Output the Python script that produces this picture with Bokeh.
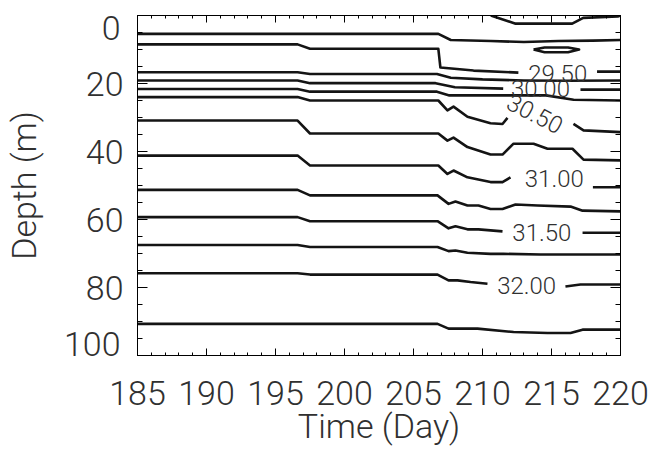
import math
from bokeh.plotting import figure
from bokeh.models import (LinearAxis, SingleIntervalTicker, FixedTicker, Range1d,
                          CustomJSTickFormatter)
from bokeh.core.properties import value
from bokeh.embed import file_html
from bokeh.resources import INLINE

NAN = float("nan")

# ---- isohaline data (time in days, depth in m); NaN = gap for contour label ----
s2900_day = [210.6, 212.4, 216.5, 217.3, 219.8, 220.0]
s2900_dep = [0.0, 2.4, 2.4, 0.7, 0.3, 0.0]

s2925_day = [185, 206.8, 207.7, 210.6, 213.0, 215.5, 218.0, 220]
s2925_dep = [5.4, 5.4, 7.2, 7.5, 7.8, 7.5, 7.4, 7.2]

s2925_loop_day = [213.7, 214.5, 216.2, 217.0, 216.2, 214.5, 213.7]
s2925_loop_dep = [10.0, 9.4, 9.4, 10.0, 10.8, 10.8, 10.0]

s2950_day = [185, 196.6, 197.5, 206.8, 206.95, 209.35, 212.6, NAN, 218.3, 220]
s2950_dep = [8.5, 8.5, 9.8, 9.8, 15.3, 16.2, 16.8, NAN, 16.5, 16.5]

s2975_day = [185, 196.6, 197.5, 206.7, 207.7, 210.0, 213.0, 216.0, 220]
s2975_dep = [16.7, 16.7, 17.2, 17.2, 18.3, 18.8, 19.1, 19.2, 19.1]

s3000_day = [185, 196.6, 197.5, 206.6, 208.0, 211.5, NAN, 217.1, 220]
s3000_dep = [19.1, 19.1, 19.9, 19.9, 21.1, 21.5, NAN, 21.8, 21.8]

s3025_day = [185, 196.6, 197.5, 206.7, 207.6, 214.6, 216.6, 220]
s3025_dep = [21.6, 21.6, 22.4, 22.4, 23.5, 23.5, 24.8, 25.0]

s3050_day = [185, 196.6, 197.5, 206.8, 207.46, 207.9, 208.91, 210.58, 211.45, 211.81,
             NAN, 216.59, 217.32, 220]
s3050_dep = [24.0, 24.0, 25.0, 25.0, 27.9, 26.8, 29.8, 31.7, 31.9, 30.1,
             NAN, 31.9, 33.8, 34.3]

s3075_day = [185, 196.6, 197.5, 206.8, 207.46, 207.9, 208.91, 210.58, 211.45, 212.25,
             213.70, 214.71, 216.52, 217.32, 220]
s3075_dep = [30.9, 30.9, 34.7, 34.7, 36.8, 35.9, 38.7, 40.9, 40.9, 37.7,
             37.7, 39.2, 39.2, 42.4, 42.6]

s3100_day = [185, 196.6, 197.5, 206.8, 207.46, 207.9, 208.91, 210.58, 211.45, 212.03,
             NAN, 218.0, 220]
s3100_dep = [41.2, 41.2, 44.1, 44.1, 46.6, 45.6, 47.6, 49.0, 49.0, 47.6,
             NAN, 50.5, 50.5]

s3125_day = [185, 196.6, 197.5, 206.74, 207.54, 208.04, 208.91, 209.71, 210.58, 211.45,
             212.39, 213.99, 216.38, 217.25, 220]
s3125_dep = [51.3, 51.3, 52.9, 52.9, 55.4, 54.7, 55.9, 55.9, 56.9, 56.9,
             55.6, 55.9, 56.2, 57.4, 57.6]

s3150_day = [185, 196.6, 197.5, 206.74, 207.54, 208.04, 208.91, 209.71, 211.45,
             NAN, 217.25, 220]
s3150_dep = [59.3, 59.3, 60.5, 60.5, 62.6, 62.0, 62.9, 62.9, 63.5,
             NAN, 63.9, 63.9]

s3175_day = [185, 196.6, 197.5, 206.74, 207.54, 208.04, 208.91, 210.58, 211.52, 214.2, 220]
s3175_dep = [67.5, 67.5, 68.1, 68.1, 69.3, 69.1, 69.8, 70.1, 70.1, 70.3, 70.3]

s3200_day = [185, 196.6, 197.5, 206.74, 207.54, 208.19, 209.13, 210.36,
             NAN, 216.01, 217.10, 220]
s3200_dep = [75.8, 75.8, 76.2, 76.2, 77.9, 77.9, 78.4, 78.9,
             NAN, 79.7, 79.1, 79.1]

s3225_day = [185, 206.74, 207.54, 209.64, 212.25, 214.71, 216.38, 217.25, 220]
s3225_dep = [90.7, 90.7, 92.1, 92.1, 93.1, 93.4, 93.4, 92.4, 92.4]

# contour labels
label_text = ["29.50", "30.00", "31.00", "31.50", "32.00"]
label_day = [215.45, 214.2, 215.2, 214.3, 213.2]
label_dep = [17.2, 21.5, 47.9, 63.8, 79.4]
rot_label_text = ["30.50"]
rot_label_day = [213.8]
rot_label_dep = [28.9]
rot_label_deg = [-27]

# axes
x_start, x_end = 185, 220
y_top, y_bottom = 0, 100
y_end_values = [0, 100]

FONT = "Roboto Light"
TXT = "#303030"
LINE = "#141414"
FRAME_H = 340          # frame height in px
END_SHIFT = 12         # end labels of depth axis sit this far inside (as in original)

p = figure(width=652, height=449,
           x_range=Range1d(x_start, x_end), y_range=Range1d(y_bottom, y_top),
           output_backend="svg", toolbar_location=None,
           min_border_left=137, min_border_right=32, min_border_top=15, min_border_bottom=94,
           x_axis_label="Time (Day)")
p.xgrid.visible = False
p.ygrid.visible = False
p.outline_line_color = "black"
p.outline_line_width = 1
p.background_fill_color = "white"
p.border_fill_color = "white"

def style_axis(ax, major_in, minor_in):
    ax.major_tick_in = major_in
    ax.major_tick_out = 0
    ax.minor_tick_in = minor_in
    ax.minor_tick_out = 0
    ax.axis_line_color = "black"
    ax.major_tick_line_color = "black"
    ax.minor_tick_line_color = "black"
    ax.major_label_text_font = FONT
    ax.major_label_text_color = TXT
    ax.axis_label_text_font = FONT
    ax.axis_label_text_color = TXT
    ax.axis_label_text_font_style = "normal"

xa = p.xaxis[0]
xa.ticker = SingleIntervalTicker(interval=5, num_minor_ticks=5)
style_axis(xa, 7, 3)
xa.major_label_text_font_size = "34px"
xa.axis_label_text_font_size = "34px"
xa.major_label_standoff = 25
xa.axis_label_standoff = -2

ya = p.yaxis[0]
ya.ticker = SingleIntervalTicker(interval=20, num_minor_ticks=4)
style_axis(ya, 10, 5)
ya.major_label_text_font_size = "34px"
ya.major_label_standoff = 14
ya.major_label_overrides = {v: "" for v in y_end_values}

# outer label-only axis for the end labels "0" and "100" (shifted inward) + title
pad = (y_bottom - y_top) * END_SHIFT / (FRAME_H - 2 * END_SHIFT)
p.extra_y_ranges = {"ends": Range1d(y_bottom + pad, y_top - pad)}
end_ax = LinearAxis(y_range_name="ends", ticker=FixedTicker(ticks=y_end_values),
                    axis_label="Depth (m)")
style_axis(end_ax, 0, 0)
end_ax.axis_line_color = None
end_ax.major_tick_line_color = None
end_ax.minor_tick_line_color = None
end_ax.major_label_text_font_size = "34px"
end_ax.axis_label_text_font_size = "34px"
end_ax.major_label_standoff = -38
end_ax.axis_label_standoff = 17
p.add_layout(end_ax, "left")

blank = CustomJSTickFormatter(code="return ''")

top_ax = LinearAxis(ticker=SingleIntervalTicker(interval=5, num_minor_ticks=5), formatter=blank)
style_axis(top_ax, 7, 3)
top_ax.major_label_standoff = 0
p.add_layout(top_ax, "above")

right_ax = LinearAxis(ticker=SingleIntervalTicker(interval=20, num_minor_ticks=4), formatter=blank)
style_axis(right_ax, 10, 5)
right_ax.major_label_standoff = 0
p.add_layout(right_ax, "right")

series = [
    (s2900_day, s2900_dep), (s2925_day, s2925_dep), (s2925_loop_day, s2925_loop_dep),
    (s2950_day, s2950_dep), (s2975_day, s2975_dep), (s3000_day, s3000_dep),
    (s3025_day, s3025_dep), (s3050_day, s3050_dep), (s3075_day, s3075_dep),
    (s3100_day, s3100_dep), (s3125_day, s3125_dep), (s3150_day, s3150_dep),
    (s3175_day, s3175_dep), (s3200_day, s3200_dep), (s3225_day, s3225_dep),
]
for d, z in series:
    p.line(x=d, y=z, line_color=LINE, line_width=2.6, line_join="round")

p.text(x=label_day, y=label_dep, text=label_text, text_font=value(FONT),
       text_font_size="24px", text_color=TXT, text_align="center", text_baseline="middle")
p.text(x=rot_label_day, y=rot_label_dep, text=rot_label_text, text_font=value(FONT),
       text_font_size="24px", text_color=TXT, text_align="center", text_baseline="middle",
       angle=[math.radians(a) for a in rot_label_deg])

open("out.html", "w").write(file_html(p, INLINE))
